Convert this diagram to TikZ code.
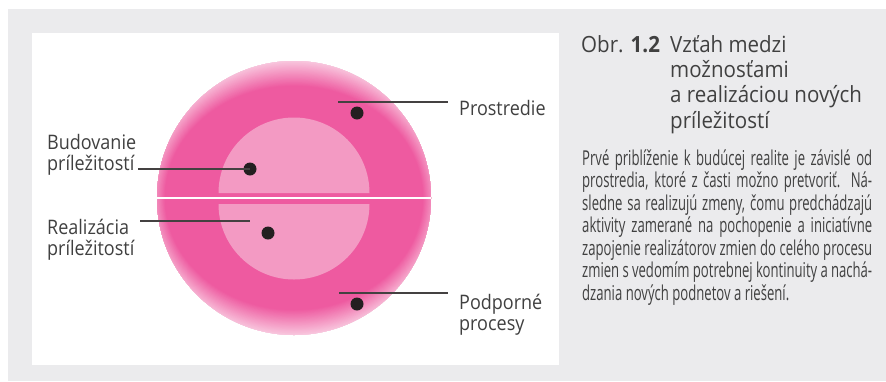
\documentclass[tikz,border=0pt]{standalone}
\usepackage{fontspec}
\setmainfont{Open Sans}
\newfontfamily\labelfont[FakeStretch=0.9]{Open Sans}
\newfontfamily\titlefont[FakeStretch=0.92]{Open Sans}
\newfontfamily\bodyfont[FakeStretch=0.64]{Open Sans}
\definecolor{bggray}{HTML}{EBEBED}
\definecolor{pinkD}{HTML}{EE5AA0}
\definecolor{pinkL}{HTML}{F39AC3}
\definecolor{pinkR}{HTML}{FBE3EE}
\definecolor{txt}{HTML}{404040}
\definecolor{dotc}{HTML}{231F20}
\begin{document}
\begin{tikzpicture}[x=1pt,y=-1pt,
  lbl/.style={font=\labelfont\fontsize{20}{20.5}\selectfont, text=txt, inner sep=0pt, anchor=base west, align=left},
  ttl/.style={font=\titlefont\fontsize{22.3}{25.3}\selectfont, text=txt, inner sep=0pt, anchor=base west, align=left},
  body/.style={font=\bodyfont\fontsize{20.5}{22.5}\selectfont, text=txt, inner sep=0pt, anchor=base west, align=left},
  leader/.style={draw=dotc!85, line width=1.3pt},
  dotm/.style={circle, fill=dotc, minimum size=13pt, inner sep=0pt}]
\useasboundingbox (0,0) rectangle (886,381);
\fill[bggray] (8,9) rectangle (886,381);
\fill[white] (32,33) rectangle (559,365);
% outer disc with soft rim
\begin{scope}
  \clip (294,198) circle[radius=137pt];
  \fill[pinkR] (294,198) circle[radius=137pt];
  \foreach \i in {0,...,40}{
    \pgfmathsetmacro{\a}{152-23*\i/40}
    \pgfmathsetmacro{\b}{144-32*\i/40}
    \pgfmathsetmacro{\p}{100*\i/40}
    \fill[pinkD!\p!pinkR] (294,198) ellipse[x radius=\a pt, y radius=\b pt];
  }
\end{scope}
% inner halves
\fill[pinkL] (218.5,193) arc[start angle=180,end angle=0,radius=75.5pt] -- cycle;
\fill[pinkL] (218.5,204) arc[start angle=180,end angle=360,radius=75.5pt] -- cycle;
\draw[white, line width=1.8pt] (157,198) -- (431,198);
% dots
\node[dotm] (d1) at (357,113) {};
\node[dotm] (d2) at (250,169) {};
\node[dotm] (d3) at (268,233) {};
\node[dotm] (d4) at (357,304) {};
% labels (anchor = baseline of last line)
\node[lbl] (l1) at (459,115) {Prostredie};
\node[lbl] (l2) at (47,170) {Budovanie\\príležitostí};
\node[lbl] (l3) at (47,255) {Realizácia\\príležitostí};
\node[lbl] (l4) at (459,330) {Podporné\\procesy};
% leaders
\coordinate (c1) at (338,102);
\coordinate (c2) at (138,169);
\coordinate (c3) at (140,221);
\coordinate (c4) at (339,293);
\draw[leader] (c1) -- ([xshift=-11pt]l1.west |- c1);
\draw[leader] (c2) -- (d2.center);
\draw[leader] (c3) -- (c3 -| d2.center);
\draw[leader] (c4) -- ([xshift=-11pt]l4.west |- c4);
% caption
\node[ttl] (t1) at (581,52) {Obr. \textbf{1.2}};
\node[ttl] (t2) at (670,128) {Vzťah medzi\\možnosťami\\a realizáciou nových\\príležitostí};
\node[body] (b) at (582,300) {%
\makebox[290pt][s]{Prvé priblíženie k budúcej realite je závislé od}\\
\makebox[290pt][s]{prostredia, ktoré z časti možno pretvoriť. Ná-}\\
\makebox[290pt][s]{sledne sa realizujú zmeny, čomu predchádzajú}\\
\makebox[290pt][s]{aktivity zamerané na pochopenie a iniciatívne}\\
\makebox[290pt][s]{zapojenie realizátorov zmien do celého procesu}\\
\makebox[290pt][s]{zmien s vedomím potrebnej kontinuity a nachá-}\\
dzania nových podnetov a riešení.};
\end{tikzpicture}
\end{document}
